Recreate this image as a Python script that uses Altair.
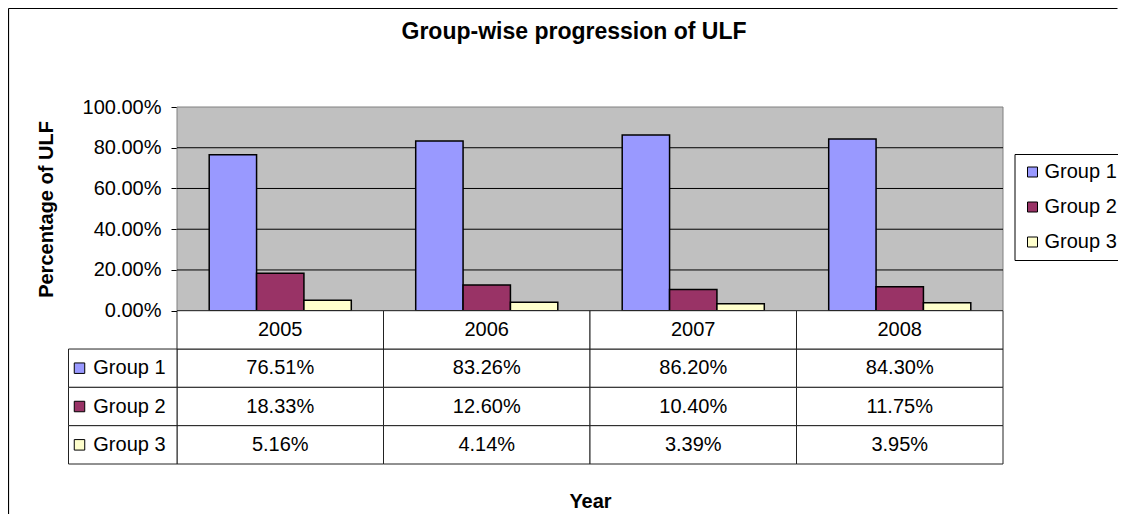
import altair as alt
import pandas as pd

# ---- data ----
years = ["2005", "2006", "2007", "2008"]
groups = ["Group 1", "Group 2", "Group 3"]
group1 = [0.7651, 0.8326, 0.8620, 0.8430]
group2 = [0.1833, 0.1260, 0.1040, 0.1175]
group3 = [0.0516, 0.0414, 0.0339, 0.0395]
colors = ["#9999FF", "#993366", "#FFFFCC"]
y_ticks = [0, 0.2, 0.4, 0.6, 0.8, 1.0]
table_rows = ["Year"] + groups
chart_title = ["Group-wise progression of ULF"]

records = []
for g, vals in zip(groups, [group1, group2, group3]):
    for yr, v in zip(years, vals):
        records.append({"year": yr, "group": g, "value": v, "row": g})
df = pd.DataFrame(records)
df_years = pd.DataFrame({"year": years, "row": ["Year"] * len(years)})
df_groups = pd.DataFrame({"group": groups, "row": groups})
df_grid = pd.DataFrame({"v": y_ticks[1:-1]})
df_one = pd.DataFrame({"a": [0]})
df_title = pd.DataFrame({"t": chart_title})

# ---- layout (pixels inside the view) ----
PLOT_W = 934.5
PLOT_H = 357
X0 = 108.5      # left edge of the bar panel (label column is left of it)
BAR_H = 203.7   # height of the bar panel; the data table sits below it
FONT = "Liberation Sans"

x_scale = alt.Scale(domain=years, range=[X0, PLOT_W], paddingInner=0, paddingOuter=0)
y_val_scale = alt.Scale(domain=[0, 1], range=[BAR_H, 0], nice=False)
y_row_scale = alt.Scale(domain=table_rows, range=[BAR_H, PLOT_H], paddingInner=0, paddingOuter=0)
color_scale = alt.Scale(domain=groups, range=colors)

x_axis = alt.Axis(title="Year", labels=False, ticks=False, domain=False, grid=False,
                  titleFontSize=20, titleFontWeight="bold", titleFont=FONT, titleColor="black",
                  titleY=43.7, titleBaseline="alphabetic")
x_enc = alt.X("year:N", scale=x_scale, sort=years, axis=x_axis)

legend = alt.Legend(title=None, orient="none", legendX=946, legendY=47,
                    fillColor="white", strokeColor="black", padding=8,
                    symbolType="square", symbolSize=100, symbolStrokeColor="black",
                    symbolStrokeWidth=1, labelFontSize=20, labelFont=FONT, labelColor="black",
                    rowPadding=15, labelOffset=2, cornerRadius=0)
color_enc = alt.Color("group:N", scale=color_scale, legend=legend)

y_row = alt.Y("row:N", scale=y_row_scale, sort=table_rows, axis=None)

frame_top = alt.Chart(df_one).mark_rule(color="black", strokeWidth=1.2).encode(
    x=alt.value(-60), x2=alt.value(1049), y=alt.value(-98.5))
frame_left = alt.Chart(df_one).mark_rule(color="black", strokeWidth=1.2).encode(
    x=alt.value(-60), y=alt.value(-98.5), y2=alt.value(460))

title_text = alt.Chart(df_title).mark_text(fontSize=23, fontWeight="bold", font=FONT,
                                           color="black", align="center",
                                           baseline="alphabetic").encode(
    x=alt.value(505.5), y=alt.value(-67.7), text="t:N")

bg = alt.Chart(df_one).mark_rect(fill="#C0C0C0", stroke="#808080", strokeWidth=1).encode(
    x=alt.value(X0), x2=alt.value(PLOT_W), y=alt.value(0), y2=alt.value(BAR_H))

grid = alt.Chart(df_grid).mark_rule(color="black", strokeWidth=1).encode(
    x=alt.value(X0), x2=alt.value(PLOT_W),
    y=alt.Y("v:Q", scale=y_val_scale, axis=None))

bars = alt.Chart(df).mark_bar(stroke="black", strokeWidth=1.5).encode(
    x=x_enc,
    xOffset=alt.XOffset("group:N", sort=groups,
                        scale=alt.Scale(domain=groups, paddingInner=0, paddingOuter=0.68)),
    y=alt.Y("value:Q", scale=y_val_scale,
            axis=alt.Axis(values=y_ticks, format=".2%", offset=-X0, grid=False,
                          domainColor="black", tickColor="black", tickSize=6, labelPadding=10,
                          labelFontSize=20, labelFont=FONT, labelColor="black",
                          title="Percentage of ULF", titleFontSize=20, titleFontWeight="bold",
                          titleFont=FONT, titleColor="black",
                          titleX=-131, titleY=102, titleAngle=270,
                          titleBaseline="middle", titleAlign="center")),
    color=color_enc,
)

cells = alt.Chart(df).mark_rect(fill="white", stroke="#222222", strokeWidth=1).encode(
    x=x_enc, y=y_row)
year_cells = alt.Chart(df_years).mark_rect(fill="white", stroke="#222222", strokeWidth=1).encode(
    x=x_enc, y=y_row)
label_cells = alt.Chart(df_groups).mark_rect(fill="white", stroke="#222222", strokeWidth=1).encode(
    x=alt.value(0), x2=alt.value(X0), y=y_row)

cell_text = alt.Chart(df).mark_text(fontSize=20, font=FONT, color="black",
                                    align="center", baseline="middle").encode(
    x=x_enc, y=y_row, text=alt.Text("value:Q", format=".2%"))
year_text = alt.Chart(df_years).mark_text(fontSize=20, font=FONT, color="black",
                                          align="center", baseline="middle").encode(
    x=x_enc, y=y_row, text="year:N")
label_sq = alt.Chart(df_groups).mark_point(shape="square", filled=True, size=110,
                                           stroke="black", strokeWidth=1, opacity=1).encode(
    x=alt.value(11), y=y_row, color=color_enc)
label_text = alt.Chart(df_groups).mark_text(fontSize=20, font=FONT, color="black",
                                            align="left", baseline="middle").encode(
    x=alt.value(24.8), y=y_row, text="group:N")

chart = alt.layer(
    frame_top, frame_left, title_text, bg, grid, bars, cells, year_cells, label_cells,
    cell_text, year_text, label_sq, label_text,
).resolve_scale(y="independent").properties(
    width=PLOT_W, height=PLOT_H,
    autosize=alt.AutoSizeParams(type="none"),
    padding={"left": 60.5, "top": 99, "right": 115, "bottom": 50},
    background="white",
).configure(font=FONT).configure_view(strokeWidth=0)

chart.save("out.html", embed_options={"renderer": "svg", "actions": False})
